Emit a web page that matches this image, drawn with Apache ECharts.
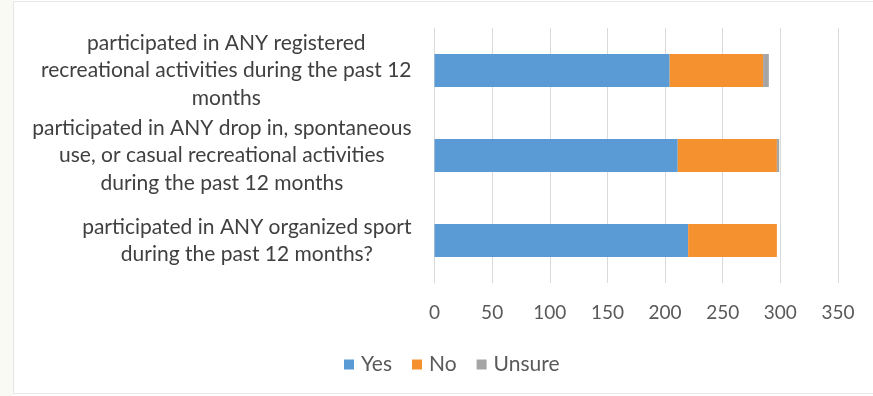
<!DOCTYPE html>
<html>
<head>
<meta charset="utf-8">
<script src="https://cdn.jsdelivr.net/npm/echarts@6/dist/echarts.min.js"></script>
<style>
  html, body { margin: 0; padding: 0; background: #ffffff; }
  #chart { width: 873px; height: 396px; }
</style>
</head>
<body>
<div id="chart"></div>
<script>
// Survey questions, listed top to bottom; "\n" marks the wrapped lines
const questions = [
  'participated in ANY registered\nrecreational activities during the past 12\nmonths',
  'participated in ANY drop in, spontaneous\nuse, or casual recreational activities\nduring the past 12 months',
  'participated in ANY organized sport\nduring the past 12 months?'
];
const yesCounts = [204, 211, 220];
const noCounts = [81, 86, 77];
const unsureCounts = [5, 2, 0];
const seriesNames = ['Yes', 'No', 'Unsure'];
const seriesColors = ['#5b9bd5', '#f5922f', '#a5a5a5'];

const FONT = 'Lato, "Open Sans", sans-serif';

const chart = echarts.init(document.getElementById('chart'));

const makeSeries = (name, values, color) => ({
  name: name,
  type: 'bar',
  stack: 'total',
  data: values,
  barWidth: 33,
  itemStyle: { color: color },
  emphasis: { disabled: true }
});

chart.setOption({
  backgroundColor: '#ffffff',
  animation: false,
  textStyle: { fontFamily: FONT },
  // faint outer frame of the chart area
  graphic: [
    { type: 'rect', left: 0, top: 0, z: -10, silent: true,
      shape: { x: 0, y: 0, width: 13, height: 396 },
      style: { fill: '#fafaf4' } },
    { type: 'rect', z: -9, silent: true,
      shape: { x: 13.5, y: 1.5, width: 880, height: 392 },
      style: { fill: 'none', stroke: '#e6e6e6', lineWidth: 1 } }
  ],
  grid: { left: 434.5, right: 35, top: 28, bottom: 113, containLabel: false },
  xAxis: {
    type: 'value',
    min: 0,
    max: 350,
    interval: 50,
    axisLine: { show: false },
    axisTick: { show: false },
    splitLine: { lineStyle: { color: '#d9d9d9', width: 1 } },
    axisLabel: { color: '#595959', fontSize: 19, margin: 20, fontFamily: FONT }
  },
  yAxis: {
    type: 'category',
    inverse: true,
    data: questions,
    axisLine: { show: true, lineStyle: { color: '#d9d9d9' } },
    axisTick: { show: false },
    axisLabel: {
      color: '#404040',
      fontSize: 21,
      lineHeight: 27.5,
      margin: 23,
      align: 'right',
      fontFamily: FONT,
      formatter: v => v.split('\n').map(l => '{c|' + l + '}').join('\n'),
      rich: { c: { align: 'center', fontSize: 21, lineHeight: 27.5, color: '#404040', fontFamily: FONT } }
    }
  },
  legend: {
    data: seriesNames,
    bottom: 16,
    left: 339,
    itemWidth: 10,
    itemHeight: 10,
    itemGap: 20,
    icon: 'rect',
    textStyle: { color: '#595959', fontSize: 21, fontFamily: FONT, padding: [0, 0, 0, 2] }
  },
  series: [
    makeSeries(seriesNames[0], yesCounts, seriesColors[0]),
    makeSeries(seriesNames[1], noCounts, seriesColors[1]),
    makeSeries(seriesNames[2], unsureCounts, seriesColors[2])
  ]
});
</script>
</body>
</html>
